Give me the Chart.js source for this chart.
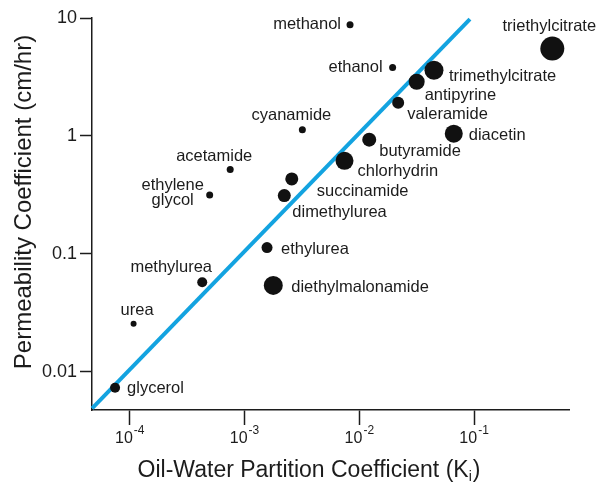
<!DOCTYPE html>
<html>
<head>
<meta charset="utf-8">
<script src="https://cdn.jsdelivr.net/npm/chart.js@4.4.1/dist/chart.umd.min.js"></script>
<style>
  html, body { margin: 0; padding: 0; background: #ffffff; }
  #wrap { width: 598px; height: 485px; position: relative; }
</style>
</head>
<body>
<div id="wrap"><canvas id="c" width="598" height="485"></canvas></div>
<script>
// ---- data ----
const compounds = ['methanol', 'ethanol', 'triethylcitrate', 'trimethylcitrate', 'antipyrine',
  'valeramide', 'diacetin', 'cyanamide', 'butyramide', 'chlorhydrin', 'succinamide',
  'dimethylurea', 'acetamide', 'ethylene\nglycol', 'ethylurea', 'diethylmalonamide',
  'methylurea', 'urea', 'glycerol'];
const partitionK = [0.0083, 0.0195, 0.48, 0.0447, 0.0316,
  0.0218, 0.0665, 0.00319, 0.0122, 0.00743, 0.00258,
  0.00222, 0.00075, 0.000497, 0.00157, 0.00178,
  0.000428, 0.000108, 0.0000745];
const permeability = [8.75, 3.8, 5.5, 3.6, 2.88,
  1.91, 1.045, 1.13, 0.93, 0.615, 0.432,
  0.312, 0.52, 0.315, 0.113, 0.054,
  0.0575, 0.0256, 0.00732];
const fitLineK = [0.000047, 0.092];
const fitLineP = [0.0049, 9.8];
const xTickValues = [1e-4, 1e-3, 1e-2, 1e-1];
const xTickBase = ['10', '10', '10', '10'];
const xTickExponents = ['-4', '-3', '-2', '-1'];
const yTickValues = [0.01, 0.1, 1, 10];
const yTickLabels = ['0.01', '0.1', '1', '10'];
const xTitleMain = 'Oil-Water Partition Coefficient (K';
const xTitleSub = 'i';
const xTitleEnd = ')';
const yTitle = 'Permeability Coefficient (cm/hr)';

// ---- styling (not data) ----
const dotRadius = [3.5, 3.5, 12, 9.5, 8, 6, 9, 3.5, 7, 9, 6.5, 6.5, 3.5, 3.5, 5.5, 9.5, 5, 3, 5];
// label offsets from dot centre: [dx, dy, align]
const labelOffsets = [
  [-9, 0, 'right'], [-10, 0, 'right'], [-3, -22, 'center'], [15, 6, 'left'], [8, 14, 'left'],
  [9, 12, 'left'], [15, 2, 'left'], [-11, -14, 'center'], [10, 12, 'left'], [13, 11, 'left'],
  [25, 13, 'left'], [8, 17, 'left'], [-16, -13, 'center'], [-37, -10, 'center'], [14, 2, 'left'],
  [18, 2, 'left'], [-31, -15, 'center'], [3.5, -13, 'center'], [12, 1, 'left']
];

const INK = '#1c1c1c';
const FONT = '"Liberation Sans", Arial, Helvetica, sans-serif';

const labelPlugin = {
  id: 'pointLabels',
  afterDatasetsDraw(chart) {
    const ctx = chart.ctx;
    const meta = chart.getDatasetMeta(0);
    ctx.save();
    ctx.fillStyle = INK;
    ctx.font = '16.5px ' + FONT;
    ctx.textBaseline = 'middle';
    meta.data.forEach((pt, i) => {
      const [dx, dy, align] = labelOffsets[i];
      ctx.textAlign = align;
      const lines = compounds[i].split('\n');
      lines.forEach((ln, j) => {
        ctx.fillText(ln, pt.x + dx, pt.y + dy + j * 15);
      });
    });
    ctx.restore();
  }
};

const xTickLabelPlugin = {
  id: 'xPowerLabels',
  afterDraw(chart) {
    const ctx = chart.ctx;
    const xs = chart.scales.x;
    const baseFont = '16px ' + FONT, expFont = '12px ' + FONT;
    ctx.save();
    ctx.fillStyle = INK;
    ctx.textBaseline = 'alphabetic';
    ctx.textAlign = 'left';
    xTickValues.forEach((v, i) => {
      const px = xs.getPixelForValue(v);
      ctx.font = baseFont;
      const wb = ctx.measureText(xTickBase[i]).width;
      ctx.font = expFont;
      const we = ctx.measureText(xTickExponents[i]).width;
      const x0 = px - (wb + we + 1) / 2;
      ctx.font = baseFont;
      ctx.fillText(xTickBase[i], x0, 443);
      ctx.font = expFont;
      ctx.fillText(xTickExponents[i], x0 + wb + 1, 434);
    });
    ctx.restore();
  }
};

const titlePlugin = {
  id: 'axisTitles',
  afterDraw(chart) {
    const ctx = chart.ctx;
    ctx.save();
    ctx.fillStyle = INK;
    ctx.font = '24px ' + FONT;
    ctx.textAlign = 'center';
    ctx.textBaseline = 'alphabetic';
    ctx.translate(31, 202);
    ctx.rotate(-Math.PI / 2);
    ctx.fillText(yTitle, 0, 0);
    ctx.restore();

    ctx.save();
    ctx.fillStyle = INK;
    ctx.textBaseline = 'alphabetic';
    ctx.textAlign = 'left';
    const big = '23px ' + FONT, small = '14px ' + FONT;
    ctx.font = big;
    const w1 = ctx.measureText(xTitleMain).width;
    const w3 = ctx.measureText(xTitleEnd).width;
    ctx.font = small;
    const w2 = ctx.measureText(xTitleSub).width;
    const total = w1 + w2 + w3 + 1;
    let x = 309 - total / 2;
    const base = 477;
    ctx.font = big;
    ctx.fillText(xTitleMain, x, base);
    x += w1;
    ctx.font = small;
    ctx.fillText(xTitleSub, x, base + 4);
    x += w2 + 1;
    ctx.font = big;
    ctx.fillText(xTitleEnd, x, base);
    ctx.restore();
  }
};

const scatterData = partitionK.map((k, i) => ({ x: k, y: permeability[i] }));
const lineData = fitLineK.map((k, i) => ({ x: k, y: fitLineP[i] }));

new Chart(document.getElementById('c'), {
  type: 'scatter',
  data: {
    datasets: [
      {
        label: 'compounds',
        data: scatterData,
        pointRadius: dotRadius,
        pointHoverRadius: dotRadius,
        backgroundColor: '#111111',
        borderColor: '#111111',
        borderWidth: 0,
        clip: false
      },
      {
        type: 'line',
        label: 'fit',
        data: lineData,
        borderColor: '#13a3e0',
        borderWidth: 4,
        pointRadius: 0,
        fill: false,
        clip: false
      }
    ]
  },
  options: {
    responsive: false,
    animation: false,
    events: [],
    layout: { padding: { left: 0, right: 29, top: 18, bottom: 0 } },
    plugins: { legend: { display: false }, tooltip: { enabled: false } },
    scales: {
      x: {
        type: 'logarithmic',
        min: 0.0000469,
        max: 0.671,
        afterBuildTicks: (s) => { s.ticks = xTickValues.map(v => ({ value: v })); },
        afterFit: (s) => { s.height = 75; },
        ticks: { display: false, autoSkip: false, maxRotation: 0 },
        grid: { display: true, drawOnChartArea: false, drawTicks: true, tickLength: 15, tickColor: INK, tickWidth: 1.5 },
        border: { display: true, color: INK, width: 1.5 }
      },
      y: {
        type: 'logarithmic',
        min: 0.00474,
        max: 10,
        afterBuildTicks: (s) => { s.ticks = yTickValues.map(v => ({ value: v })); },
        afterFit: (s) => { s.width = 92; },
        ticks: {
          autoSkip: false,
          padding: 3,
          color: INK,
          font: { family: FONT, size: 18 },
          callback: (v, i) => yTickLabels[i]
        },
        grid: { display: true, drawOnChartArea: false, drawTicks: true, tickLength: 12, tickColor: INK, tickWidth: 1.5 },
        border: { display: true, color: INK, width: 1.5 }
      }
    }
  },
  plugins: [labelPlugin, xTickLabelPlugin, titlePlugin]
});
</script>
</body>
</html>
